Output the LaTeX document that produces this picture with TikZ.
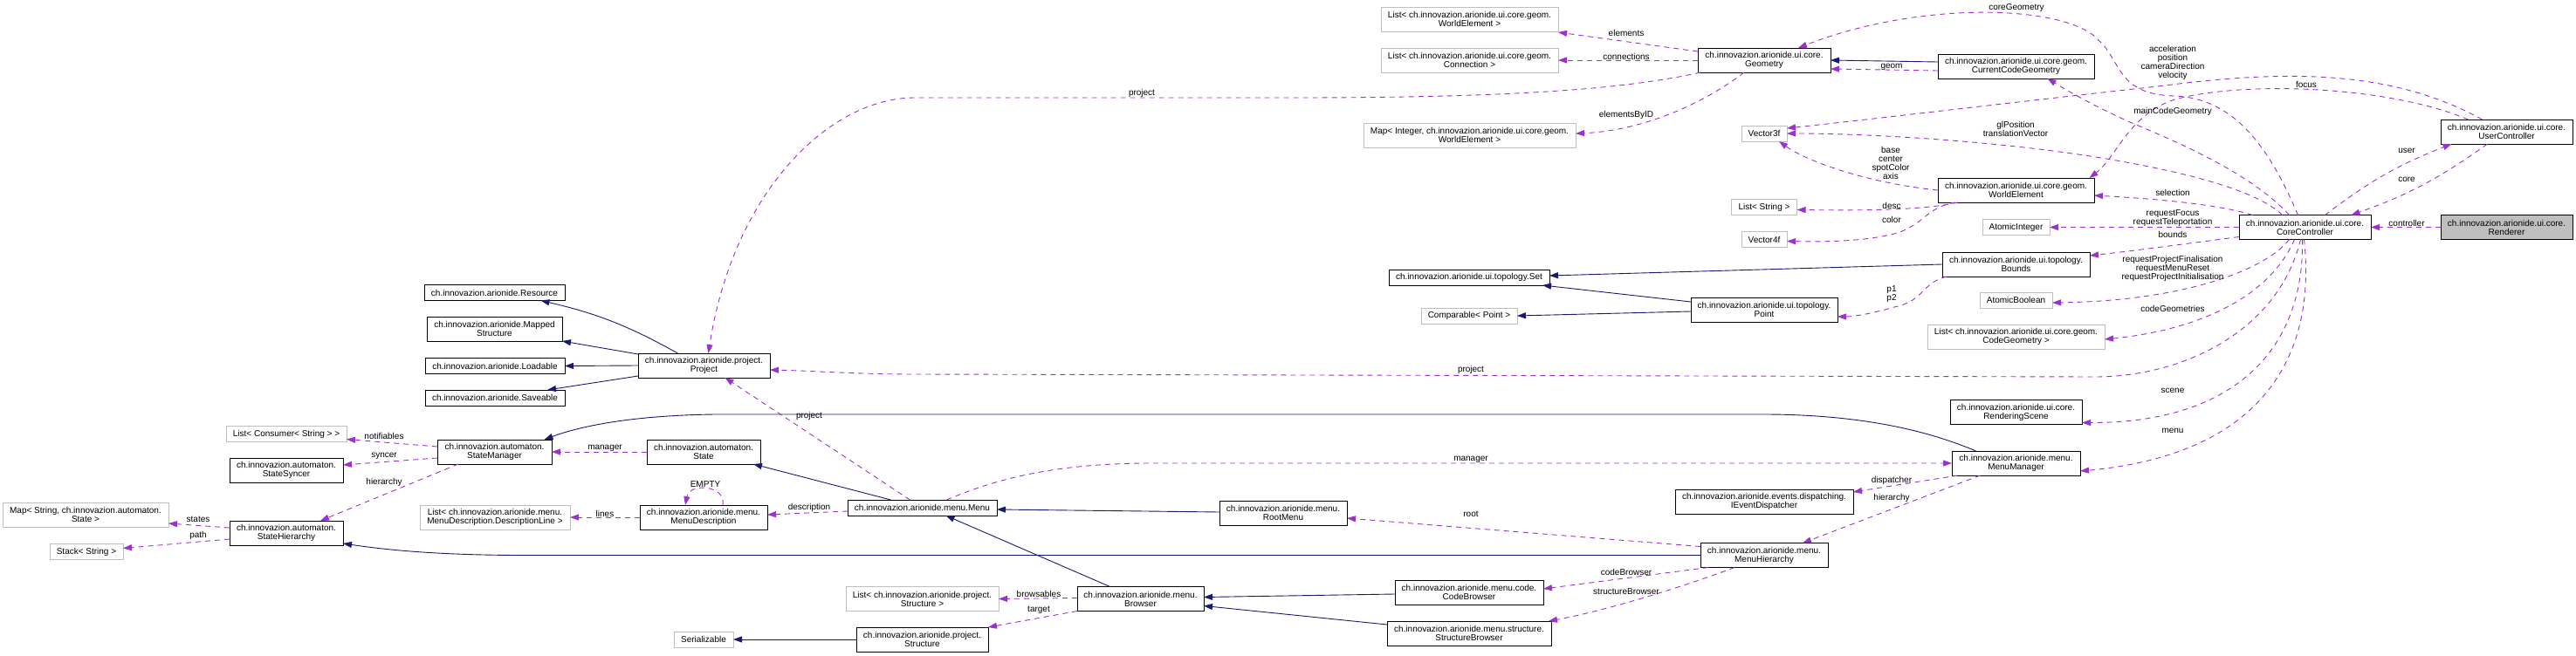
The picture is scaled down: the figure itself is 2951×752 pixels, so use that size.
\documentclass[tikz,border=0pt]{standalone}
\usepackage{fontspec}
\setmainfont{Liberation Sans}
\usepackage{tikz}
\usetikzlibrary{arrows.meta,calc}
\definecolor{UseLine}{HTML}{9A32CD}
\definecolor{InhLine}{HTML}{191970}
\definecolor{ExtGray}{HTML}{BFBFBF}
\tikzset{
  cls/.style={draw=black, fill=white, line width=0.9pt, inner sep=0pt, outer sep=0pt, align=center},
  ext/.style={cls, draw=ExtGray},
  uses/.style={draw=UseLine, line width=0.9pt, dash pattern=on 6pt off 5pt, -{Triangle[length=10pt,width=7pt]}},
  inh/.style={draw=InhLine, line width=0.9pt, -{Triangle[length=10pt,width=7pt]}},
  lbl/.style={align=center, inner sep=0pt, text=black}
}

\begin{document}
\begin{tikzpicture}[x=1pt, y=-1pt, font=\fontsize{10}{10}\selectfont]
\useasboundingbox (0,0) rectangle (2951,752);
\foreach \nm/\cx/\cy/\bw/\bh/\txt in {
coreCtrl/2640.5/260.5/151/28/{ch.innovazion.arionide.ui.core.\\CoreController},
userCtrl/2871.5/151/151/28/{ch.innovazion.arionide.ui.core.\\UserController},
geometry/2021/69/152/28/{ch.innovazion.arionide.ui.core.\\Geometry},
curGeom/2309.5/76/179/28/{ch.innovazion.arionide.ui.core.geom.\\CurrentCodeGeometry},
worldElem/2309.5/218/179/28/{ch.innovazion.arionide.ui.core.geom.\\WorldElement},
bounds/2309.5/303/169/28/{ch.innovazion.arionide.ui.topology.\\Bounds},
point/2021/355/168/28/{ch.innovazion.arionide.ui.topology.\\Point},
topoSet/1683/318/184/18/{ch.innovazion.arionide.ui.topology.Set},
renderScene/2309.5/472.5/151/28/{ch.innovazion.arionide.ui.core.\\RenderingScene},
menuMgr/2309.5/531/147/28/{ch.innovazion.arionide.menu.\\MenuManager},
eventDisp/2021/575/204/28/{ch.innovazion.arionide.events.dispatching.\\IEventDispatcher},
menuHier/2021/636.5/146/28/{ch.innovazion.arionide.menu.\\MenuHierarchy},
codeBrowser/1683/679/170/28/{ch.innovazion.arionide.menu.code.\\CodeBrowser},
structBrowser/1683/726/188/28/{ch.innovazion.arionide.menu.structure.\\StructureBrowser},
rootMenu/1470/588/146/28/{ch.innovazion.arionide.menu.\\RootMenu},
browser/1306.5/686.5/145/28/{ch.innovazion.arionide.menu.\\Browser},
menu/1056.5/582/171/18/{ch.innovazion.arionide.menu.Menu},
structure/1056.5/733/151/28/{ch.innovazion.arionide.project.\\Structure},
project/806.5/419/151/28/{ch.innovazion.arionide.project.\\Project},
state/806/518/130/28/{ch.innovazion.automaton.\\State},
menuDesc/806/593/146/28/{ch.innovazion.arionide.menu.\\MenuDescription},
resource/566.5/335.5/161/18/{ch.innovazion.arionide.Resource},
mapped/566.5/377/155/28/{ch.innovazion.arionide.Mapped\\Structure},
loadable/567/419.5/160/18/{ch.innovazion.arionide.Loadable},
saveable/567/456/160/18/{ch.innovazion.arionide.Saveable},
stateMgr/566.5/518/131/28/{ch.innovazion.automaton.\\StateManager},
stateSync/328/539/130/28/{ch.innovazion.automaton.\\StateSyncer},
stateHier/328/611/130/28/{ch.innovazion.automaton.\\StateHierarchy}}{
  \node[cls, minimum width=\bw, minimum height=\bh] (\nm) at (\cx,\cy) {\txt};
}
\foreach \nm/\cx/\cy/\bw/\bh/\txt in {
listWorld/1683.5/22/203/28/{List< ch.innovazion.arionide.ui.core.geom.\\WorldElement >},
listConn/1683.5/69/203/28/{List< ch.innovazion.arionide.ui.core.geom.\\Connection >},
mapWorld/1683.5/155/243/28/{Map< Integer, ch.innovazion.arionide.ui.core.geom.\\WorldElement >},
vecThree/2021/153/52/18/{Vector3f},
listString/2021/237.5/75/18/{List< String >},
vecFour/2021/274.5/52/18/{Vector4f},
atomInt/2309.5/260.5/77/18/{AtomicInteger},
atomBool/2309.5/344/83/18/{AtomicBoolean},
listCodeGeom/2309.5/386/203/28/{List< ch.innovazion.arionide.ui.core.geom.\\CodeGeometry >},
comparable/1683/362/110/18/{Comparable< Point >},
listConsumer/328/497.5/138/18/{List< Consumer< String > >},
mapState/98/590/190/28/{Map< String, ch.innovazion.automaton.\\State >},
stackString/99/632.5/84/18/{Stack< String >},
listDescLine/567/593/172/28/{List< ch.innovazion.arionide.menu.\\MenuDescription.DescriptionLine >},
listStruct/1056.5/686.5/175/28/{List< ch.innovazion.arionide.project.\\Structure >},
serializable/806/733/68/18/{Serializable}}{
  \node[ext, minimum width=\bw, minimum height=\bh] (\nm) at (\cx,\cy) {\txt};
}
\node[cls, fill=ExtGray, minimum width=151, minimum height=28] (renderer) at (2871.5,260.5) {ch.innovazion.arionide.ui.core.\\Renderer};

\draw[uses] (renderer.west) -- (coreCtrl.east) node[lbl,at={(2757,256)}]{controller};
\draw[uses] ($(coreCtrl.north)+(23,0)$) to[bend left=8] ($(userCtrl.south)+(-63,0)$) node[lbl,at={(2757,173)}]{user};
\draw[uses] ($(userCtrl.south)+(-22,0)$) to[bend left=8] ($(coreCtrl.north)+(53,0)$) node[lbl,at={(2757,206)}]{core};
\draw[uses] ($(userCtrl.north)+(-28,0)$) .. controls (2740,80) and (2620,80) .. (2480,98) .. controls (2300,118) and (2150,136) .. ($(vecThree.east)+(0,-6)$) node[lbl,at={(2489,72)}]{acceleration\\position\\cameraDirection\\velocity};
\draw[uses] ($(userCtrl.north)+(-44,0)$) .. controls (2740,100) and (2580,92) .. (2495,113) .. controls (2440,128) and (2425,180) .. ($(worldElem.north)+(84,0)$) node[lbl,at={(2642,97)}]{focus};
\draw[uses] ($(coreCtrl.north)+(-8,0)$) .. controls (2600,170) and (2560,112) .. (2490,110) .. controls (2425,108) and (2430,70) .. (2405,47) .. controls (2370,5) and (2200,0) .. ($(geometry.north)+(39,0)$) node[lbl,at={(2310,9)}]{coreGeometry};
\draw[uses] ($(coreCtrl.north)+(-18,0)$) .. controls (2580,200) and (2500,165) .. (2440,140) .. controls (2400,122) and (2370,105) .. ($(curGeom.south)+(36,0)$) node[lbl,at={(2489,128)}]{mainCodeGeometry};
\draw[uses] ($(coreCtrl.north)+(-26,0)$) .. controls (2590,222) and (2520,200) .. (2413,182) .. controls (2300,163) and (2150,153) .. (vecThree.east) node[lbl,at={(2309,148)}]{glPosition\\translationVector};
\draw[uses] ($(coreCtrl.north)+(-60,0)$) .. controls (2540,234) and (2470,228) .. ($(worldElem.east)+(0,6)$) node[lbl,at={(2489,221)}]{selection};
\draw[uses] (coreCtrl.west) -- (atomInt.east) node[lbl,at={(2489,250)}]{requestFocus\\requestTeleportation};
\draw[uses] ($(coreCtrl.west)+(0,11)$) .. controls (2500,280) and (2440,288) .. ($(bounds.east)+(0,-10)$) node[lbl,at={(2489,269)}]{bounds};
\draw[uses] ($(coreCtrl.south)+(-18,0)$) .. controls (2595,310) and (2500,345) .. ($(atomBool.east)+(0,3)$) node[lbl,at={(2489,308)}]{requestProjectFinalisation\\requestMenuReset\\requestProjectInitialisation};
\draw[uses] ($(coreCtrl.south)+(-12,0)$) .. controls (2600,340) and (2520,378) .. ($(listCodeGeom.east)+(0,3)$) node[lbl,at={(2489,354)}]{codeGeometries};
\draw[uses] ($(coreCtrl.south)+(-5,0)$) .. controls (2610,380) and (2500,432) .. (2400,432) -- (1050,429) .. controls (980,429) and (930,425) .. ($(project.east)+(0,5)$) node[lbl,at={(1685,424)}]{project};
\draw[uses] ($(coreCtrl.south)+(-3,0)$) .. controls (2640,400) and (2560,485) .. ($(renderScene.east)+(0,12)$) node[lbl,at={(2489,448)}]{scene};
\draw[uses] ($(coreCtrl.south)+(-1,0)$) .. controls (2655,420) and (2580,522) .. ($(menuMgr.east)+(0,9)$) node[lbl,at={(2489,494)}]{menu};

\draw[uses] ($(geometry.west)+(0,-10)$) -- ($(listWorld.east)+(0,15)$) node[lbl,at={(1863,38)}]{elements};
\draw[uses] (geometry.west) -- (listConn.east) node[lbl,at={(1863,65)}]{connections};
\draw[uses] ($(geometry.south)+(-23,0)$) .. controls (1950,120) and (1880,150) .. ($(mapWorld.east)+(0,-2)$) node[lbl,at={(1863,132)}]{elementsByID};
\draw[uses] ($(geometry.south west)+(3,0)$) .. controls (1850,105) and (1700,112) .. (1480,112) -- (1048,112) .. controls (950,112) and (840,220) .. ($(project.north)+(5,0)$) node[lbl,at={(1308,107)}]{project};
\draw[uses] ($(curGeom.west)+(0,5)$) -- ($(geometry.east)+(0,10)$) node[lbl,at={(2167,77)}]{geom};
\draw[inh] ($(curGeom.west)+(0,-5)$) -- (geometry.east);

\draw[uses] (worldElem.west) .. controls (2140,210) and (2070,185) .. ($(vecThree.south)+(17,0)$) node[lbl,at={(2166,187)}]{base\\center\\spotColor\\axis};
\draw[uses] ($(worldElem.south west)+(23,0)$) .. controls (2200,242) and (2120,241) .. ($(listString.east)+(0,3)$) node[lbl,at={(2167,236)}]{desc};
\draw[uses] ($(worldElem.south west)+(20,0)$) .. controls (2205,238) and (2205,258) .. (2170,268) .. controls (2130,278) and (2080,277) .. ($(vecFour.east)+(0,2)$) node[lbl,at={(2167,252)}]{color};
\draw[inh] (bounds.west) -- ($(topoSet.east)+(0,-2)$);
\draw[uses] ($(bounds.south west)+(5,0)$) .. controls (2200,325) and (2205,345) .. (2170,352) .. controls (2150,358) and (2125,363) .. ($(point.east)+(0,8)$) node[lbl,at={(2167,337)}]{p1\\p2};
\draw[inh] ($(point.west)+(0,-9)$) -- ($(topoSet.south east)+(-8,0)$);
\draw[inh] ($(point.west)+(0,2)$) -- (comparable.east);

\draw[inh] ($(menuMgr.north)+(-46,0)$) .. controls (2200,490) and (2120,475) .. (2020,475) -- (820,475) .. controls (720,476) and (660,490) .. ($(stateMgr.north)+(57,0)$);
\draw[uses] ($(menu.north)+(28,0)$) .. controls (1150,545) and (1220,531) .. (1320,531) -- (menuMgr.west) node[lbl,at={(1685,527)}]{manager};
\draw[uses] ($(menuMgr.south west)+(7,0)$) -- ($(eventDisp.east)+(0,-11)$) node[lbl,at={(2167,551)}]{dispatcher};
\draw[uses] ($(menuMgr.south)+(-41,0)$) -- ($(menuHier.north)+(44,0)$) node[lbl,at={(2167,571)}]{hierarchy};
\draw[inh] (menuHier.west) -- (600,636.5) .. controls (500,636.5) and (440,630) .. ($(stateHier.east)+(0,12)$);
\draw[uses] ($(menuHier.west)+(0,-10)$) -- ($(rootMenu.east)+(0,6)$) node[lbl,at={(1685,589)}]{root};
\draw[uses] ($(menuHier.south west)+(9,0)$) -- ($(codeBrowser.east)+(0,-4)$) node[lbl,at={(1863,656)}]{codeBrowser};
\draw[uses] ($(menuHier.south)+(-34,0)$) .. controls (1930,672) and (1840,700) .. ($(structBrowser.north east)+(-3,0)$) node[lbl,at={(1863,678)}]{structureBrowser};

\draw[inh] ($(rootMenu.west)+(0,-1)$) -- ($(menu.east)+(0,2)$);
\draw[inh] ($(browser.north)+(-35,0)$) -- ($(menu.south)+(27,0)$);
\draw[inh] ($(codeBrowser.west)+(0,2)$) -- ($(browser.east)+(0,-2)$);
\draw[inh] ($(structBrowser.west)+(0,-10)$) -- ($(browser.east)+(0,8)$);
\draw[uses] ($(browser.west)+(0,-1)$) -- (listStruct.east) node[lbl,at={(1190,681)}]{browsables};
\draw[uses] ($(browser.west)+(0,14)$) -- (structure.north east) node[lbl,at={(1190,699)}]{target};
\draw[inh] (structure.west) -- (serializable.east);
\draw[uses] ($(menu.north)+(-14,0)$) -- ($(project.south)+(24,0)$) node[lbl,at={(927,477)}]{project};
\draw[inh] ($(menu.north)+(-36,0)$) -- ($(state.south)+(57,0)$);
\draw[uses] ($(menu.west)+(0,4)$) -- ($(menuDesc.east)+(0,-3)$) node[lbl,at={(927,582)}]{description};
\draw[uses] ($(menuDesc.north)+(22,0)$) .. controls (832,556) and (790,553) .. ($(menuDesc.north)+(-21,0)$) node[lbl,at={(808,555)}]{EMPTY};
\draw[uses] (menuDesc.west) -- (listDescLine.east) node[lbl,at={(693,589)}]{lines};
\draw[uses] (state.west) -- (stateMgr.east) node[lbl,at={(693,514)}]{manager};

\draw[inh] ($(project.north)+(-30,0)$) to[bend right=8] ($(resource.south)+(53,0)$);
\draw[inh] ($(project.west)+(0,-13)$) -- (mapped.south east);
\draw[inh] (project.west) -- (loadable.east);
\draw[inh] ($(project.west)+(0,12)$) -- ($(saveable.north)+(60,0)$);
\draw[uses] ($(stateMgr.west)+(0,-6)$) -- ($(listConsumer.east)+(0,6)$) node[lbl,at={(440,500)}]{notifiables};
\draw[uses] ($(stateMgr.west)+(0,7)$) -- ($(stateSync.east)+(0,-6)$) node[lbl,at={(440,523)}]{syncer};
\draw[uses] ($(stateMgr.south west)+(24,0)$) -- ($(stateHier.north)+(39,0)$) node[lbl,at={(440,553)}]{hierarchy};
\draw[uses] ($(stateHier.west)+(0,-6)$) -- ($(mapState.east)+(0,10)$) node[lbl,at={(227,595)}]{states};
\draw[uses] ($(stateHier.west)+(0,7)$) -- ($(stackString.east)+(0,-4)$) node[lbl,at={(227,614)}]{path};
\end{tikzpicture}
\end{document}
